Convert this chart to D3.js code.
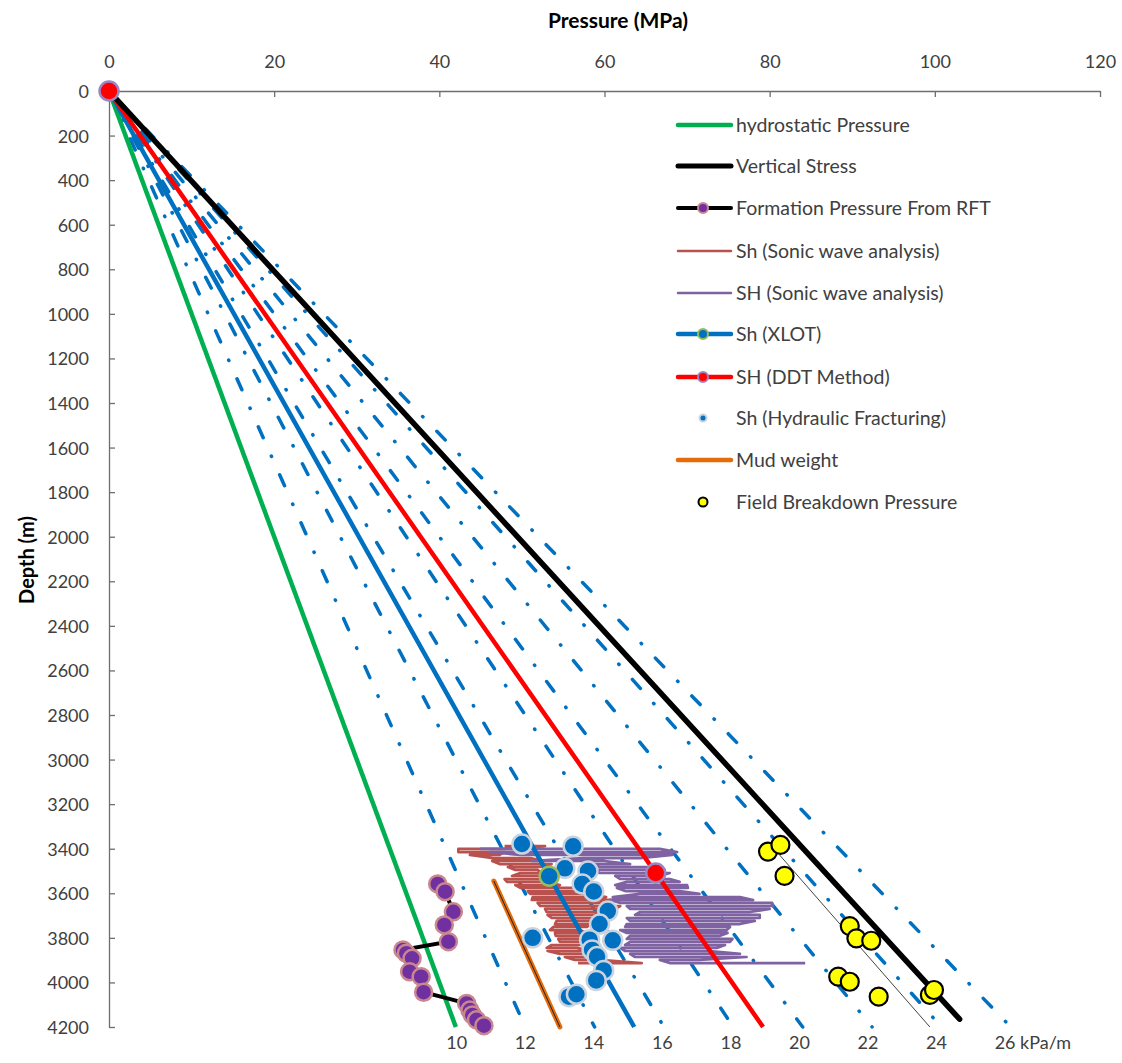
<!DOCTYPE html>
<html>
<head>
<meta charset="utf-8">
<script src="https://cdn.jsdelivr.net/npm/d3@7"></script>
<style>
  body { margin: 0; background: #fff; }
  svg { display: block; }
  text { font-family: Lato, "Open Sans", "DejaVu Sans", sans-serif; }
</style>
</head>
<body>
<script>
// ---- Axis ticks ----
const pressureTicks = [0, 20, 40, 60, 80, 100, 120];
const depthTicks = [0, 200, 400, 600, 800, 1000, 1200, 1400, 1600, 1800, 2000, 2200,
                    2400, 2600, 2800, 3000, 3200, 3400, 3600, 3800, 4000, 4200];

// ---- Gradient reference lines (kPa/m), drawn from surface to 4200 m ----
const gradientLines = [12, 14, 16, 18, 20, 22, 24, 26];
const gradientLabels = [10, 12, 14, 16, 18, 20, 22, 24, 26];
const gradientDepth = 4200;

// ---- Straight profiles: pressure (MPa) vs depth (m) ----
const hydroP = [0, 42.0];
const hydroD = [0, 4200];
const vertP = [0, 103.0];
const vertD = [0, 4165];
const xlotP = [0, 53.3, 63.6];
const xlotD = [0, 3523, 4200];
const ddtP = [0, 66.2, 79.2];
const ddtD = [0, 3509, 4200];
const mudP = [46.6, 54.6];
const mudD = [3545, 4200];
const breakdownTrendP = [81.2, 99.4];
const breakdownTrendD = [3428, 4200];

// ---- Formation pressure from RFT ----
const rftP = [39.8, 40.7, 41.7, 40.6, 41.1, 35.6, 36.0, 36.7, 36.4, 37.8, 38.1, 43.3, 43.7, 44.0, 44.5, 45.4];
const rftD = [3558, 3593, 3683, 3742, 3817, 3854, 3869, 3892, 3952, 3974, 4044, 4094, 4124, 4146, 4168, 4194];

// ---- Sh from hydraulic fracturing ----
const hfP = [50.0, 56.2, 55.2, 58.0, 57.3, 58.7, 60.4, 59.4, 51.3, 58.2, 61.0, 58.5, 59.1, 59.9, 59.0, 55.7, 56.6];
const hfD = [3379, 3389, 3488, 3500, 3558, 3592, 3680, 3738, 3800, 3808, 3811, 3854, 3884, 3946, 3991, 4064, 4053];

// ---- Field breakdown pressure ----
const fbpP = [79.8, 81.3, 81.8, 89.7, 90.5, 92.3, 88.3, 89.7, 93.2, 99.4, 99.9];
const fbpD = [3413, 3383, 3522, 3747, 3802, 3813, 3974, 3997, 4064, 4056, 4034];

// ---- Sonic wave analysis logs: depth, lowest and highest reading per depth step ----
const sonicD = [3388, 3401, 3415, 3428, 3442, 3455, 3469, 3482, 3495, 3509,
                3522, 3536, 3549, 3563, 3576, 3590, 3603, 3617, 3630, 3643,
                3657, 3670, 3684, 3697, 3711, 3724, 3738, 3751, 3765, 3778,
                3791, 3805, 3818, 3832, 3845, 3859, 3872, 3886, 3899, 3913];
const shSonicLow = [47.9, 42.3, 42.3, 43.7, 46.5, 46.4, 47.3, 48.3, 49.2, 49.8,
                    48.8, 47.9, 48.2, 49.2, 49.8, 50.7, 51.0, 51.3, 51.2, 51.9,
                    52.2, 52.8, 53.0, 53.1, 53.6, 54.2, 54.0, 53.8, 53.4, 54.0,
                    54.1, 54.4, 54.6, 53.6, 53.0, 53.1, 54.6, 55.2, 56.4, 56.8];
const shSonicHigh = [52.8, 49.8, 47.9, 47.3, 51.0, 52.8, 53.6, 52.2, 51.9, 52.4,
                     53.1, 53.4, 52.9, 54.6, 58.0, 56.4, 58.2, 60.2, 60.7, 59.4,
                     61.9, 61.3, 61.0, 60.0, 59.4, 59.1, 58.2, 57.9, 57.0, 57.9,
                     57.6, 57.4, 57.7, 57.6, 56.7, 58.2, 58.2, 58.0, 59.4, 64.5];
const SHSonicLow = [null, 44.9, 46.1, 49.8, 57.4, 51.2, 58.2, 59.4, 58.8, 59.4,
                    61.3, 61.9, 62.7, 61.3, 61.5, 62.5, 64.3, 61.0, 60.7, 61.9,
                    62.7, 63.1, 64.3, 63.7, 62.7, 63.1, 62.7, 62.5, 61.9, 62.7,
                    63.1, 62.7, 63.1, 62.5, 61.9, 62.5, 63.1, 63.7, 66.7, 67.9];
const SHSonicHigh = [null, 66.7, 68.8, 68.2, 64.3, 60.0, 63.1, 65.5, 67.3, 67.9,
                     66.7, 67.9, 69.1, 70.0, 70.1, 69.1, 71.5, 76.4, 78.0, 80.3,
                     80.4, 80.0, 77.6, 78.8, 78.8, 78.2, 76.4, 75.2, 74.8, 74.9,
                     74.0, 75.5, 75.2, 74.6, 73.6, 72.8, 76.4, 77.2, 71.5, 84.3];

// ---- Colours ----
const C = {
  green: "#00B050", black: "#000000", blue: "#0070C0", red: "#FF0000",
  orange: "#E46C0A", shSonic: "#B9524E", SHSonic: "#7E62A1",
  rftFill: "#7030A0", rftEdge: "#C9878F", hfEdge: "#C9D3E0",
  xlotEdge: "#9BBB59", ddtEdge: "#9A86C2", yellow: "#FFFF00", axis: "#6E6E6E", text: "#404040"
};

const W = 1122, H = 1063;
const svg = d3.select("body").append("svg").attr("width", W).attr("height", H);

const x = d3.scaleLinear().domain([0, 120]).range([109, 1100]);
const y = d3.scaleLinear().domain([0, 4200]).range([91, 1027]);

const zip = (ps, ds) => ps.map((p, i) => [p, ds[i]]);
const line = d3.line().x(d => x(d[0])).y(d => y(d[1]));

// ---- Axes ----
const xAxis = svg.append("g").attr("transform", `translate(0,${y(0)})`)
  .call(d3.axisTop(x).tickValues(pressureTicks).tickFormat(d3.format("d"))
    .tickSizeInner(-6).tickSizeOuter(0).tickPadding(23));
const yAxis = svg.append("g").attr("transform", `translate(${x(0)},0)`)
  .call(d3.axisLeft(y).tickValues(depthTicks).tickFormat(d3.format("d"))
    .tickSizeInner(-6).tickSizeOuter(0).tickPadding(20));
[xAxis, yAxis].forEach(g => {
  g.select(".domain").attr("stroke", C.axis).attr("stroke-width", 1.3);
  g.selectAll(".tick line").attr("stroke", C.axis).attr("stroke-width", 1.3);
  g.selectAll(".tick text").attr("fill", C.text).style("font-size", "18px")
    .style("font-family", "Lato, 'Open Sans', sans-serif");
});
yAxis.selectAll(".tick text").attr("dy", "0.36em");

svg.append("text").attr("x", 618).attr("y", 28).attr("text-anchor", "middle")
  .style("font-size", "21px").style("font-weight", "bold").attr("fill", "#000")
  .text("Pressure (MPa)");
svg.append("text").attr("transform", "translate(34,560) rotate(-90)").attr("text-anchor", "middle")
  .style("font-size", "20px").style("font-weight", "bold").attr("fill", "#000")
  .text("Depth (m)");

// ---- Gradient reference lines ----
const plot = svg.append("g");
plot.selectAll("path.grad").data(gradientLines).join("path")
  .attr("class", "grad")
  .attr("d", g => line([[0, 0], [g * gradientDepth / 1000, gradientDepth]]))
  .attr("fill", "none").attr("stroke", C.blue).attr("stroke-width", 3.5)
  .attr("stroke-linecap", "round").attr("stroke-dasharray", "12,20,0.5,20");

// gradient labels along the bottom edge
const labelDepthKm = 4.15;
svg.selectAll("text.glabel").data(gradientLabels).join("text")
  .attr("class", "glabel")
  .attr("x", g => x(g * labelDepthKm) + 5).attr("y", 1049)
  .attr("text-anchor", "middle").attr("fill", C.text).style("font-size", "18px")
  .text(g => g);
svg.append("text")
  .attr("x", x(gradientLabels[gradientLabels.length - 1] * labelDepthKm) + 20).attr("y", 1049)
  .attr("fill", C.text).style("font-size", "18px").text("kPa/m");

// ---- Sonic wave analysis logs ----
function sonicPath(lo, hi) {
  const pts = [];
  let flip = false;
  sonicD.forEach((d, i) => {
    if (lo[i] == null) return;
    if (!flip) { pts.push([lo[i], d], [hi[i], d]); }
    else { pts.push([hi[i], d], [lo[i], d]); }
    flip = !flip;
  });
  return pts;
}
plot.append("path").datum(sonicPath(shSonicLow, shSonicHigh))
  .attr("d", line).attr("fill", "none").attr("stroke", C.shSonic)
  .attr("stroke-width", 2.7).attr("stroke-linejoin", "round");
plot.append("path").datum(sonicPath(SHSonicLow, SHSonicHigh))
  .attr("d", line).attr("fill", "none").attr("stroke", C.SHSonic)
  .attr("stroke-width", 2.7).attr("stroke-linejoin", "round");

// ---- Main profiles ----
plot.append("path").datum(zip(hydroP, hydroD)).attr("d", line)
  .attr("fill", "none").attr("stroke", C.green).attr("stroke-width", 4.5);
plot.append("path").datum(zip(xlotP, xlotD)).attr("d", line)
  .attr("fill", "none").attr("stroke", C.blue).attr("stroke-width", 4.5);
plot.append("path").datum(zip(ddtP, ddtD)).attr("d", line)
  .attr("fill", "none").attr("stroke", C.red).attr("stroke-width", 4.5);
plot.append("path").datum(zip(vertP, vertD)).attr("d", line)
  .attr("fill", "none").attr("stroke", C.black).attr("stroke-width", 5.5).attr("stroke-linecap", "round");
plot.append("path").datum(zip(breakdownTrendP, breakdownTrendD)).attr("d", line)
  .attr("fill", "none").attr("stroke", "#444").attr("stroke-width", 1);

// mud weight: orange band with a thin dark centre line
plot.append("path").datum(zip(mudP, mudD)).attr("d", line)
  .attr("fill", "none").attr("stroke", C.orange).attr("stroke-width", 5).attr("stroke-linecap", "round");
plot.append("path").datum(zip(mudP, mudD)).attr("d", line)
  .attr("fill", "none").attr("stroke", "#222").attr("stroke-width", 1);

// ---- RFT formation pressures ----
const rft = zip(rftP, rftD);
plot.append("path").datum(rft).attr("d", line)
  .attr("fill", "none").attr("stroke", C.black).attr("stroke-width", 4);
plot.selectAll("circle.rft").data(rft).join("circle").attr("class", "rft")
  .attr("cx", d => x(d[0])).attr("cy", d => y(d[1])).attr("r", 8.5)
  .attr("fill", C.rftFill).attr("stroke", C.rftEdge).attr("stroke-width", 2.5);

// ---- Hydraulic fracturing Sh ----
plot.selectAll("circle.hf").data(zip(hfP, hfD)).join("circle").attr("class", "hf")
  .attr("cx", d => x(d[0])).attr("cy", d => y(d[1])).attr("r", 9.5)
  .attr("fill", C.blue).attr("stroke", C.hfEdge).attr("stroke-width", 2.5);

// XLOT and DDT markers
plot.append("circle").attr("cx", x(xlotP[1])).attr("cy", y(xlotD[1])).attr("r", 9.5)
  .attr("fill", C.blue).attr("stroke", C.xlotEdge).attr("stroke-width", 2.5);
[0, 1].forEach(i => {
  plot.append("circle").attr("cx", x(ddtP[i])).attr("cy", y(ddtD[i])).attr("r", 9.5)
    .attr("fill", C.red).attr("stroke", C.ddtEdge).attr("stroke-width", 2.5);
});

// ---- Field breakdown pressure ----
plot.selectAll("circle.fbp").data(zip(fbpP, fbpD)).join("circle").attr("class", "fbp")
  .attr("cx", d => x(d[0])).attr("cy", d => y(d[1])).attr("r", 9)
  .attr("fill", C.yellow).attr("stroke", "#000").attr("stroke-width", 2.2);

// ---- Legend ----
const legendItems = [
  { label: "hydrostatic Pressure", stroke: C.green, w: 4.5 },
  { label: "Vertical Stress", stroke: C.black, w: 5 },
  { label: "Formation Pressure From RFT", stroke: C.black, w: 4, marker: { fill: C.rftFill, edge: C.rftEdge, r: 5 } },
  { label: "Sh (Sonic wave analysis)", stroke: C.shSonic, w: 2.5 },
  { label: "SH (Sonic wave analysis)", stroke: C.SHSonic, w: 2.5 },
  { label: "Sh (XLOT)", stroke: C.blue, w: 4.5, marker: { fill: C.blue, edge: C.xlotEdge, r: 5 } },
  { label: "SH (DDT Method)", stroke: C.red, w: 4.5, marker: { fill: C.red, edge: C.ddtEdge, r: 5 } },
  { label: "Sh (Hydraulic Fracturing)", marker: { fill: C.blue, edge: C.hfEdge, r: 3.5 } },
  { label: "Mud weight", stroke: C.orange, w: 4.5 },
  { label: "Field Breakdown Pressure", marker: { fill: C.yellow, edge: "#000", r: 4.5 } }
];
const legendY = [125, 166, 208, 251, 293, 334, 377, 418, 460, 502];
const legend = svg.append("g");
legendItems.forEach((it, i) => {
  const g = legend.append("g").attr("transform", `translate(0,${legendY[i]})`);
  if (it.stroke) {
    g.append("line").attr("x1", 678).attr("x2", 731).attr("y1", 0).attr("y2", 0)
      .attr("stroke", it.stroke).attr("stroke-width", it.w).attr("stroke-linecap", "round");
  }
  if (it.marker) {
    g.append("circle").attr("cx", 703).attr("cy", 0).attr("r", it.marker.r)
      .attr("fill", it.marker.fill).attr("stroke", it.marker.edge).attr("stroke-width", 2);
  }
  g.append("text").attr("x", 736).attr("y", 0).attr("dy", "0.35em")
    .attr("fill", C.text).style("font-size", "19.5px").text(it.label);
});
</script>
</body>
</html>
